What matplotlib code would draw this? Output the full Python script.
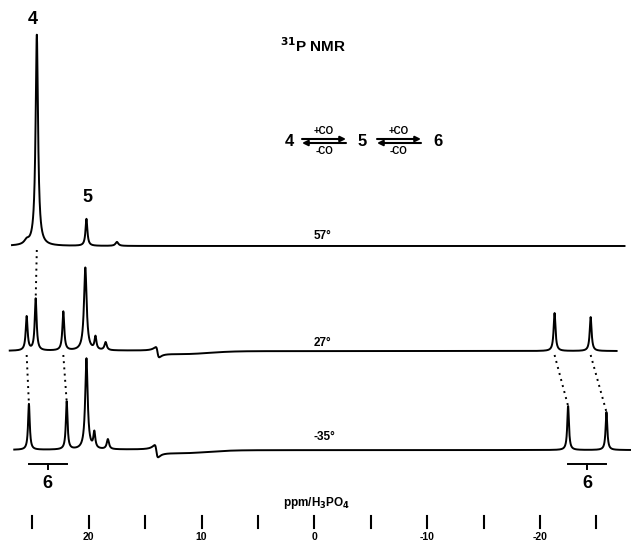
import numpy as np
import matplotlib
matplotlib.use("Agg")
import matplotlib.pyplot as plt

plt.rcParams['font.family'] = ['Liberation Sans', 'DejaVu Sans']

# ---- data -----------------------------------------------------------------
# peak positions (ppm), heights (arbitrary units ~ pixels), half widths (ppm)
temps = ["57°", "27°", "-35°"]

peaks_57_ppm = [25.5, 24.6, 20.2, 17.5]
peaks_57_h = [4, 211, 27, 4]
peaks_57_w = [0.25, 0.13, 0.10, 0.15]

peaks_27_ppm = [25.5, 24.7, 22.25, 20.3, 19.4, 18.5, -21.3, -24.5]
peaks_27_h = [34, 52, 39, 83, 13, 8, 38, 34]
peaks_27_w = [0.10, 0.10, 0.10, 0.14, 0.10, 0.12, 0.10, 0.10]

peaks_m35_ppm = [25.3, 21.95, 20.2, 19.5, 18.3, -22.5, -25.9]
peaks_m35_h = [46, 48, 91, 16, 10, 44, 38]
peaks_m35_w = [0.09, 0.09, 0.13, 0.10, 0.12, 0.09, 0.09]

# dispersive artefact (ppm, amplitude, width)
disp_27 = (13.9, 5, 0.15)
disp_m35 = (14.0, 6, 0.15)

ranges = [(26.8, -27.5), (27.0, -26.8), (26.6, -28.1)]

tick_ppm = [25, 20, 15, 10, 5, 0, -5, -10, -15, -20, -25]
label_ppm = [20, 10, 0, -10, -20]
label_txt = ["20", "10", "0", "-10", "-20"]

# brackets for compound 6 (ppm ranges at -35°)
bracket_left = (25.3, 21.95)
bracket_right = (-22.5, -25.9)

# ---- layout helpers (pixel -> data) ----------------------------------------
X0, SC = 314.3, 11.28
H = 541


def px(xp):
    return (X0 - xp) / SC


def py(yp):
    return H - yp


offsets = [py(246), py(351), py(450)]

fig = plt.figure(figsize=(6.31, 5.41), dpi=100)
ax = fig.add_axes([0, 0, 1, 1])
ax.set_xlim(px(0), px(631))
ax.set_ylim(0, H)
ax.axis('off')


def spectrum(x, pos, hts, wds, disp=None):
    y = np.zeros_like(x)
    for p, h, w in zip(pos, hts, wds):
        y += h / (1 + ((x - p) / w) ** 2)
    if disp is not None:
        p, a, w = disp
        u = (x - p) / w
        y += a * 2 * u / (1 + u ** 2)
        # slight baseline dip after the artefact
        y -= 2.5 * np.exp(-((x - (p - 2.5)) / 3.0) ** 2)
    return y


all_peaks = [
    (peaks_57_ppm, peaks_57_h, peaks_57_w, None),
    (peaks_27_ppm, peaks_27_h, peaks_27_w, disp_27),
    (peaks_m35_ppm, peaks_m35_h, peaks_m35_w, disp_m35),
]

for (pos, hts, wds, disp), off, (a, b), t in zip(all_peaks, offsets, ranges, temps):
    x = np.linspace(a, b, 6000)
    y = spectrum(x, pos, hts, wds, disp)
    ax.plot(x, y + off, color='black', lw=1.4, solid_joinstyle='round')

# temperature labels
for t, yp, xp in zip(temps, [236, 343, 437], [322, 322, 324]):
    ax.text(px(xp), py(yp), t, ha='center', va='center', fontsize=8.5,
            fontweight='bold')

# dotted correlation lines
dot_kw = dict(color='black', lw=1.4, linestyle=(0, (1, 2.2)))
ax.plot([peaks_57_ppm[1], peaks_27_ppm[1]], [offsets[0] - 4, offsets[1] + peaks_27_h[1]], **dot_kw)
ax.plot([peaks_27_ppm[0], peaks_m35_ppm[0]], [offsets[1] - 4, offsets[2] + peaks_m35_h[0]], **dot_kw)
ax.plot([peaks_27_ppm[2], peaks_m35_ppm[1]], [offsets[1] - 4, offsets[2] + peaks_m35_h[1]], **dot_kw)
ax.plot([peaks_27_ppm[6], peaks_m35_ppm[5]], [offsets[1] - 4, offsets[2] + peaks_m35_h[5]], **dot_kw)
ax.plot([peaks_27_ppm[7], peaks_m35_ppm[6]], [offsets[1] - 4, offsets[2] + peaks_m35_h[6]], **dot_kw)

# brackets for 6
for (l, r) in [bracket_left, bracket_right]:
    yb = py(464)
    ax.plot([l, r], [yb, yb], color='black', lw=1.4)
    mid = (l + r) / 2
    ax.plot([mid, mid], [yb, yb - 5], color='black', lw=1.4)
    ax.text(mid, py(483), "6", ha='center', va='center', fontsize=13,
            fontweight='bold')

# compound labels
ax.text(px(33), py(20), "4", ha='center', va='center', fontsize=13, fontweight='bold')
ax.text(px(87), py(197), "5", ha='center', va='center', fontsize=13, fontweight='bold')

# title
ax.text(px(313), py(46), r"$^{\mathbf{31}}$P NMR", ha='center', va='center',
        fontsize=11, fontweight='bold')

# equilibrium scheme
eq_y = py(141)
ax.text(px(289), eq_y, "4", ha='center', va='center', fontsize=12, fontweight='bold')
ax.text(px(362), eq_y, "5", ha='center', va='center', fontsize=12, fontweight='bold')
ax.text(px(438), eq_y, "6", ha='center', va='center', fontsize=12, fontweight='bold')
for x1, x2 in [(302, 346), (377, 421)]:
    ax.annotate("", xy=(px(x2), eq_y + 2), xytext=(px(x1), eq_y + 2),
                arrowprops=dict(arrowstyle='-|>', lw=1.5, color='black',
                                mutation_scale=8, shrinkA=0, shrinkB=0))
    ax.annotate("", xy=(px(x1), eq_y - 2), xytext=(px(x2), eq_y - 2),
                arrowprops=dict(arrowstyle='-|>', lw=1.5, color='black',
                                mutation_scale=8, shrinkA=0, shrinkB=0))
    xm = px((x1 + x2) / 2)
    ax.text(xm, eq_y + 9.5, "+CO", ha='center', va='center', fontsize=7, fontweight='bold')
    ax.text(xm, eq_y - 9.5, "-CO", ha='center', va='center', fontsize=7, fontweight='bold')

# axis: ppm label, ticks, tick labels
ax.text(px(317), py(503), r"ppm/H$_\mathbf{3}$PO$_\mathbf{4}$", ha='center', va='center',
        fontsize=8.5, fontweight='bold')
for t in tick_ppm:
    ax.plot([t, t], [py(516), py(528)], color='black', lw=1.5)
for t, s in zip(label_ppm, label_txt):
    ax.text(t, py(539.5), s, ha='center', va='baseline', fontsize=7.5, fontweight='bold')

fig.savefig("out.png", dpi=100)
